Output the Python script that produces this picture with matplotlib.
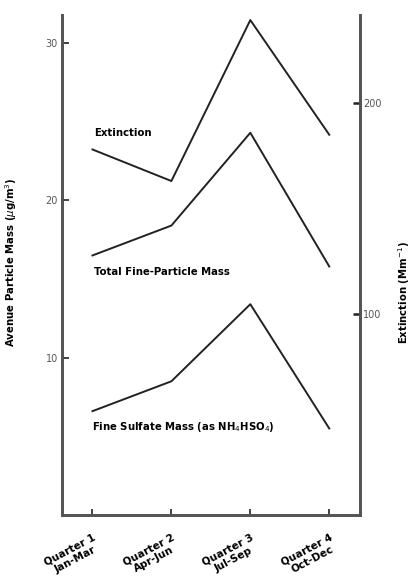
import matplotlib
matplotlib.use('Agg')
import matplotlib.pyplot as plt

# quarterly averages
quarters = [1, 2, 3, 4]
quarter_labels = ['Quarter 1\nJan-Mar', 'Quarter 2\nApr-Jun', 'Quarter 3\nJul-Sep', 'Quarter 4\nOct-Dec']
extinction = [178, 163, 239.5, 185]        # Mm^-1, right axis
total_fine_mass = [16.5, 18.4, 24.3, 15.8]  # ug/m3, left axis
sulfate_mass = [6.6, 8.5, 13.4, 5.5]        # ug/m3, left axis

col_axis = '#555555'
fs = 7.3

fig = plt.figure(figsize=(4.11, 5.85), dpi=100)
ax = fig.add_axes([0.151, 0.1197, 0.725, 0.855])
ax2 = ax.twinx()

ax.set_xlim(0.615, 4.39)
ax.set_ylim(0, 31.8)
ax2.set_ylim(4.3, 242)

ax.plot(quarters, total_fine_mass, color='#222222', linewidth=1.4)
ax.plot(quarters, sulfate_mass, color='#222222', linewidth=1.4)
ax2.plot(quarters, extinction, color='#222222', linewidth=1.4)

ax.text(1.02, 24.3, 'Extinction', fontsize=fs, fontweight='bold', va='center', ha='left')
ax.text(1.02, 15.46, 'Total Fine-Particle Mass', fontsize=fs, fontweight='bold', va='center', ha='left')
ax.text(1.0, 5.62, r'Fine Sulfate Mass (as NH$_4$HSO$_4$)', fontsize=fs, fontweight='bold',
        va='center', ha='left')

for a in (ax, ax2):
    a.spines['top'].set_visible(False)
    for s in ('left', 'right', 'bottom'):
        a.spines[s].set_color(col_axis)
        a.spines[s].set_linewidth(2)

ax.set_yticks([10, 20, 30])
ax.tick_params(axis='y', direction='in', length=5, width=1.2, color='#222222',
               labelsize=7, labelcolor='#555555', pad=3)
ax2.set_yticks([100, 200])
ax2.set_yticklabels(['100', '200'])
ax2.tick_params(axis='y', direction='in', length=5, width=1.8, color='#222222',
                labelsize=7, labelcolor='#555555', pad=2)

ax.set_xticks(quarters)
ax.set_xticklabels(quarter_labels, rotation=28, ha='right', va='top',
                   rotation_mode='anchor', multialignment='center',
                   fontsize=7.5, fontweight='bold')
ax.tick_params(axis='x', direction='in', length=4, width=1.2, color='#222222', pad=12)

ax.set_ylabel(r'Avenue Particle Mass ($\mu$g/m$^3$)', fontsize=fs, fontweight='bold')
ax.yaxis.set_label_coords(-0.145, 0.506)
ax2.set_ylabel(r'Extinction (Mm$^{-1}$)', fontsize=fs, fontweight='bold', rotation=90)
ax2.yaxis.set_label_coords(1.122, 0.444)

fig.savefig('out.png', dpi=100)
